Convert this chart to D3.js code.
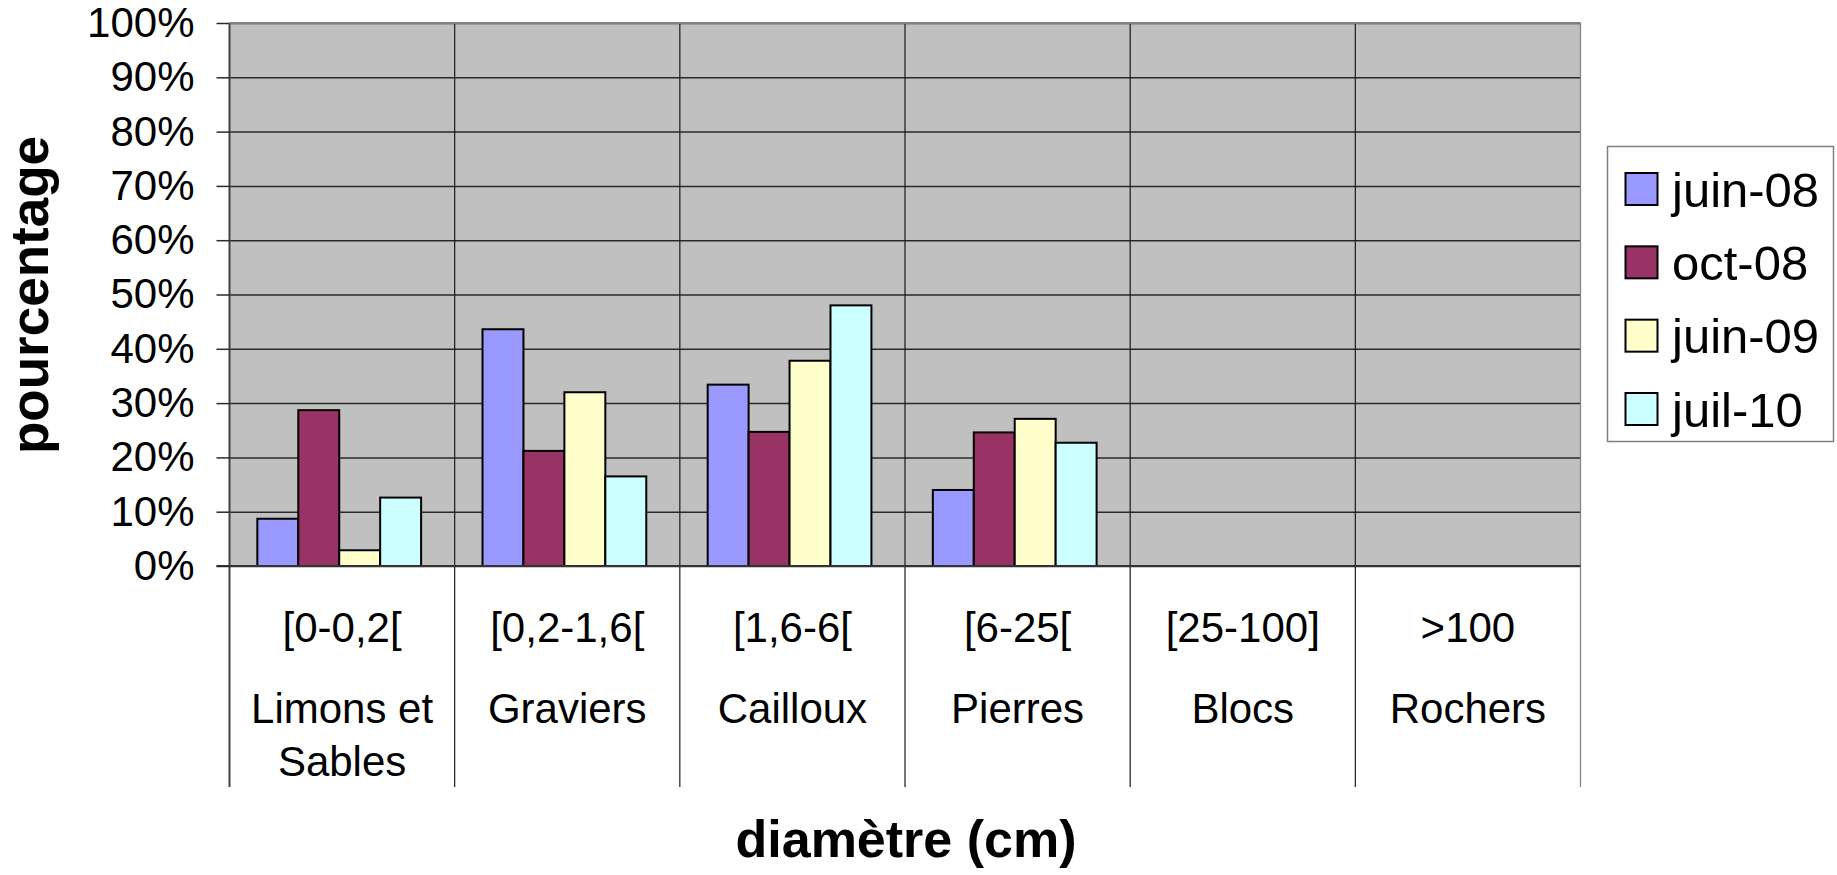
<!DOCTYPE html>
<html>
<head>
<meta charset="utf-8">
<script src="https://cdn.jsdelivr.net/npm/d3@7"></script>
<style>
  html, body { margin: 0; padding: 0; background: #ffffff; }
  svg { display: block; }
  text { font-family: "Liberation Sans", Arial, sans-serif; fill: #000; }
</style>
</head>
<body>
<svg id="chart" width="1837" height="875"></svg>
<script>
// ---- data ----
const categoryRanges = ["[0-0,2[", "[0,2-1,6[", "[1,6-6[", "[6-25[", "[25-100]", ">100"];
const categoryNames = [["Limons et", "Sables"], ["Graviers"], ["Cailloux"], ["Pierres"], ["Blocs"], ["Rochers"]];
const seriesNames = ["juin-08", "oct-08", "juin-09", "juil-10"];
const juin08 = [0.087, 0.436, 0.334, 0.140, 0, 0];
const oct08  = [0.287, 0.212, 0.247, 0.246, 0, 0];
const juin09 = [0.029, 0.320, 0.378, 0.271, 0, 0];
const juil10 = [0.126, 0.165, 0.480, 0.227, 0, 0];
const seriesColors = ["#9999FF", "#993366", "#FFFFCC", "#CCFFFF"];
const yTicks = [0, 0.1, 0.2, 0.3, 0.4, 0.5, 0.6, 0.7, 0.8, 0.9, 1.0];

const seriesValues = [juin08, oct08, juin09, juil10];

// ---- layout ----
const svg = d3.select("#chart");
const plot = { left: 229.5, right: 1580.5, top: 23, bottom: 566 };
const catLineBottom = 787;

const x0 = d3.scaleBand().domain(categoryRanges).range([plot.left, plot.right]).padding(0);
const bw = x0.bandwidth() / 5.5;
const gapL = 0.68 * bw;
const x1 = d3.scaleBand().domain(seriesNames).range([gapL, gapL + 4 * bw]).padding(0);
const y = d3.scaleLinear().domain([0, 1]).range([plot.bottom, plot.top]);

// plot background
svg.append("rect")
  .attr("x", plot.left).attr("y", plot.top)
  .attr("width", plot.right - plot.left).attr("height", plot.bottom - plot.top)
  .attr("fill", "#C0C0C0");

// gridlines
const grid = svg.append("g")
  .attr("transform", `translate(${plot.left},0)`)
  .call(d3.axisLeft(y).tickValues(yTicks).tickSize(-(plot.right - plot.left)).tickFormat(""));
grid.select(".domain").remove();
grid.selectAll(".tick line").attr("stroke", "#2a2a2a").attr("stroke-width", 1.5);

// category divider lines (extend below plot)
const bounds = categoryRanges.map(c => x0(c)).concat([plot.right]);
svg.append("g").selectAll("line").data(bounds).join("line")
  .attr("x1", d => d).attr("x2", d => d)
  .attr("y1", plot.top).attr("y2", catLineBottom)
  .attr("stroke", (d, i) => (i === 0 ? "#404040" : (i === bounds.length - 1 ? "#808080" : "#1a1a1a")))
  .attr("stroke-width", (d, i) => (i === 0 ? 2 : 1.2));

// top border
svg.append("line")
  .attr("x1", plot.left).attr("x2", plot.right)
  .attr("y1", plot.top).attr("y2", plot.top)
  .attr("stroke", "#808080").attr("stroke-width", 2);

// bars
const groups = svg.append("g").selectAll("g").data(categoryRanges).join("g")
  .attr("transform", c => `translate(${x0(c)},0)`);
groups.selectAll("rect")
  .data((c, ci) => seriesNames.map((s, si) => ({ s, si, v: seriesValues[si][ci] })).filter(d => d.v > 0))
  .join("rect")
  .attr("x", d => x1(d.s))
  .attr("y", d => y(d.v))
  .attr("width", x1.bandwidth())
  .attr("height", d => y(0) - y(d.v))
  .attr("fill", d => seriesColors[d.si])
  .attr("stroke", "#000")
  .attr("stroke-width", 2);

// baseline axis line
svg.append("line")
  .attr("x1", plot.left - 13).attr("x2", plot.right)
  .attr("y1", plot.bottom).attr("y2", plot.bottom)
  .attr("stroke", "#333").attr("stroke-width", 2);

// y axis ticks and labels
const yAxis = svg.append("g")
  .attr("transform", `translate(${plot.left},0)`)
  .call(d3.axisLeft(y).tickValues(yTicks).tickSize(13).tickPadding(22).tickFormat(d3.format(".0%")));
yAxis.select(".domain").remove();
yAxis.selectAll(".tick line").attr("stroke", "#2a2a2a").attr("stroke-width", 1.5);
yAxis.selectAll(".tick text")
  .style("font-family", "'Liberation Sans', Arial, sans-serif")
  .style("font-size", "42px").attr("fill", "#000");

// category labels
const catLabels = svg.append("g").selectAll("g").data(categoryRanges).join("g")
  .attr("transform", c => `translate(${x0(c) + x0.bandwidth() / 2},0)`);
catLabels.append("text")
  .attr("y", 642).attr("text-anchor", "middle")
  .style("font-size", "42px")
  .text(c => c);
catLabels.each(function (c, i) {
  const g = d3.select(this);
  categoryNames[i].forEach((line, li) => {
    g.append("text")
      .attr("y", 723 + li * 53).attr("text-anchor", "middle")
      .style("font-size", "42px")
      .text(line);
  });
});

// axis titles
svg.append("text")
  .attr("x", 906).attr("y", 857).attr("text-anchor", "middle")
  .style("font-size", "52px").style("font-weight", "bold")
  .text("diamètre (cm)");
svg.append("text")
  .attr("transform", "translate(48,295) rotate(-90)")
  .attr("text-anchor", "middle")
  .style("font-size", "53px").style("font-weight", "bold")
  .text("pourcentage");

// legend
const legend = svg.append("g");
legend.append("rect")
  .attr("x", 1607.5).attr("y", 146.5).attr("width", 226).attr("height", 295)
  .attr("fill", "#fff").attr("stroke", "#808080").attr("stroke-width", 1.5);
const legendY = d3.scalePoint().domain(seriesNames).range([189.5, 409.5]);
const items = legend.selectAll("g.item").data(seriesNames).join("g")
  .attr("class", "item")
  .attr("transform", s => `translate(0,${legendY(s)})`);
items.append("rect")
  .attr("x", 1625.5).attr("y", -16.5).attr("width", 32).attr("height", 32)
  .attr("fill", (s, i) => seriesColors[i]).attr("stroke", "#000").attr("stroke-width", 2);
items.append("text")
  .attr("x", 1672).attr("y", 17)
  .style("font-size", "49px")
  .text(s => s);
</script>
</body>
</html>
